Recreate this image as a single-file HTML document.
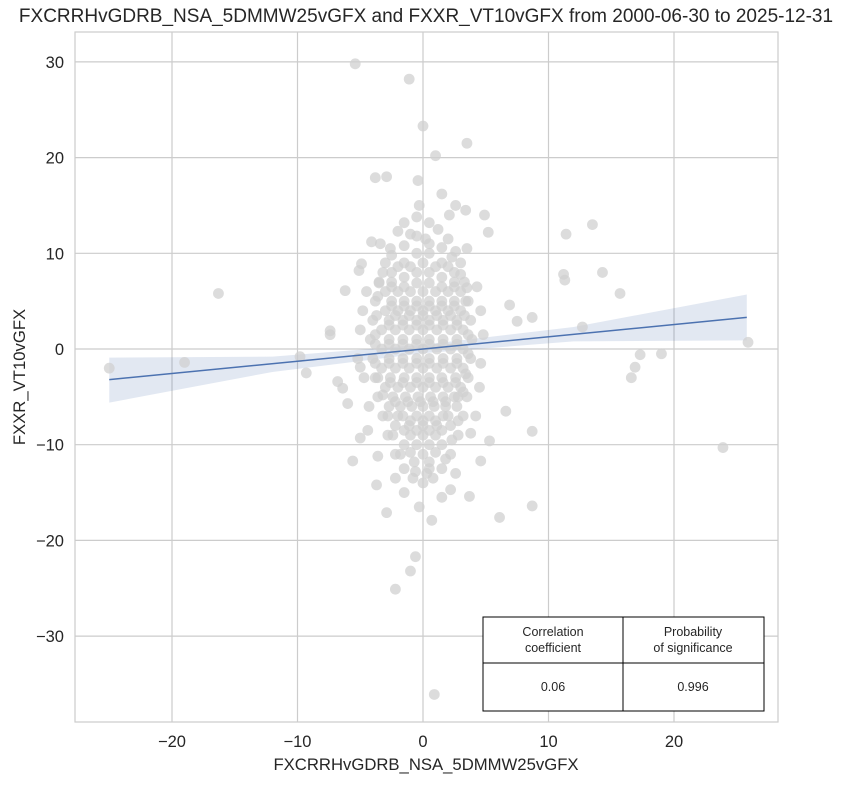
<!DOCTYPE html>
<html><head><meta charset="utf-8">
<style>
body{margin:0;background:#fff;font-family:"Liberation Sans",sans-serif;}
svg text{font-family:"Liberation Sans",sans-serif;fill:#262626;}
</style></head>
<body>
<svg id="chart" width="853" height="784" viewBox="0 0 853 784" xmlns="http://www.w3.org/2000/svg">
<rect x="0" y="0" width="853" height="784" fill="#fff"/>
<g id="grid"></g>
<g id="band"></g>
<g id="pts"></g>
<g id="line"></g>
<rect x="75" y="32" width="703" height="690" fill="none" stroke="#cccccc" stroke-width="1.2"/>
<g id="axes"></g>
<text x="426" y="22" text-anchor="middle" font-size="19">FXCRRHvGDRB_NSA_5DMMW25vGFX and FXXR_VT10vGFX from 2000-06-30 to 2025-12-31</text>
<text x="426" y="770" text-anchor="middle" font-size="16.7">FXCRRHvGDRB_NSA_5DMMW25vGFX</text>
<text transform="translate(25,377) rotate(-90)" text-anchor="middle" font-size="16.7">FXXR_VT10vGFX</text>
<g>
<rect x="483" y="617" width="281" height="94" fill="#fff" stroke="#000" stroke-width="1"/>
<line x1="623" y1="617" x2="623" y2="711" stroke="#000"/>
<line x1="483" y1="663" x2="764" y2="663" stroke="#000"/>
<text x="553" y="636" text-anchor="middle" font-size="12.5">Correlation</text>
<text x="553" y="652" text-anchor="middle" font-size="12.5">coefficient</text>
<text x="693" y="636" text-anchor="middle" font-size="12.5">Probability</text>
<text x="693" y="652" text-anchor="middle" font-size="12.5">of significance</text>
<text x="553" y="691" text-anchor="middle" font-size="12.5">0.06</text>
<text x="693" y="691" text-anchor="middle" font-size="12.5">0.996</text>
</g>
</svg>
<script>
const xTicks=[-20,-10,0,10,20];
const yTicks=[-30,-20,-10,0,10,20,30];
const outliers=[[-25,-2],[-19,-1.4],[-16.3,5.8],[-9.8,-0.8],[-9.3,-2.5],[-7.4,1.5],[-7.4,1.9],[-6.8,-3.4],[-6.2,6.1],[-5.6,-11.7],[-5,-1.9],[-3.8,17.9],[-2.9,18],[-5.4,29.8],[-1.1,28.2],[0,23.3],[1,20.2],[3.5,21.5],[1.5,16.2],[-0.4,17.6],[4.9,14],[2.6,15],[5.2,12.2],[11.4,12],[13.5,13],[11.2,7.8],[11.3,7.2],[14.3,8],[15.7,5.8],[12.7,2.3],[8.7,3.3],[7.5,2.9],[16.9,-1.9],[16.6,-3],[17.3,-0.6],[19,-0.5],[23.9,-10.3],[25.9,0.7],[8.7,-8.6],[8.7,-16.4],[6.1,-17.6],[-2.2,-25.1],[-1,-23.2],[-0.6,-21.7],[0.9,-36.1],[0.7,-17.9],[3.7,-15.4],[-3.7,-14.2],[-5,-9.3],[-2.9,-17.1],[2.2,-14.7],[5.3,-9.6],[6.6,-6.5],[-6.4,-4.1],[-4.9,8.9],[-4.1,11.2],[3.4,14.5],[-1,12],[2.1,14],[4.6,-11.7],[-3.6,-11.2],[-6,-5.7],[6.9,4.6],[-5.1,8.2]];
const cloud=[[-3.5,7],[-3,9],[-2.6,10.5],[-2,12.3],[-1.5,13.2],[-0.5,13.8],[0.5,13.2],[1.2,12.5],[2,11.5],[2.6,10.2],[3,9],[3.3,7],[-3.8,5],[-4,3],[-4.2,1],[-4,-1],[-3.8,-3],[-3.6,-5],[-3.2,-7],[-2.8,-9],[-2.2,-11],[-1.5,-12.5],[-0.8,-13.5],[0,-14],[0.8,-13.5],[1.5,-12.5],[2.2,-11],[2.8,-9],[3.2,-7],[3.5,-5],[3.6,-3],[3.8,-1],[3.9,1],[3.8,3],[3.6,5],[-2.5,8],[-1.5,9],[-0.5,10],[0.5,10],[1.5,9],[2.5,8],[-3,6],[-2,6],[-1,6],[0,6],[1,6],[2,6],[3,6],[-3,4],[-2,4],[-1,4],[0,4],[1,4],[2,4],[3,4],[-3.3,2],[-2.2,2],[-1.1,2],[0,2],[1.1,2],[2.2,2],[3.2,2],[-3.3,0],[-2.2,0],[-1.1,0],[0,0],[1.1,0],[2.2,0],[3.2,0],[-3.3,-2],[-2.2,-2],[-1.1,-2],[0,-2],[1.1,-2],[2.2,-2],[3.2,-2],[-3,-4],[-2,-4],[-1,-4],[0,-4],[1,-4],[2,-4],[3,-4],[-2.7,-6],[-1.8,-6],[-0.9,-6],[0,-6],[0.9,-6],[1.8,-6],[2.7,-6],[-2.2,-8],[-1.1,-8],[0,-8],[1.1,-8],[2.2,-8],[-1.5,-10],[-0.5,-10],[0.5,-10],[1.5,-10],[-0.7,-11.8],[0.5,-11.8],[-2.5,7],[-1.5,7.5],[-0.5,8],[0.5,8],[1.5,7.5],[2.5,7],[-2.5,5],[-1.5,5],[-0.5,5],[0.5,5],[1.5,5],[2.5,5],[-2.7,3],[-1.6,3],[-0.5,3],[0.5,3],[1.6,3],[2.7,3],[-2.7,1],[-1.6,1],[-0.5,1],[0.5,1],[1.6,1],[2.7,1],[-2.7,-1],[-1.6,-1],[-0.5,-1],[0.5,-1],[1.6,-1],[2.7,-1],[-2.6,-3],[-1.5,-3],[-0.5,-3],[0.5,-3],[1.5,-3],[2.6,-3],[-2.4,-5],[-1.4,-5],[-0.4,-5],[0.6,-5],[1.6,-5],[2.5,-5],[-1.6,-7],[-0.5,-7],[0.5,-7],[1.6,-7],[-1,-9],[0,-9],[1,-9],[-4.8,4],[-5,2],[-5.2,-1],[-4.7,-3],[-4.5,6],[4.6,4],[4.8,1.5],[4.6,-1.5],[4.5,-4],[4.3,6.5],[-4.3,-6],[4.2,-7],[-3.4,11],[3.5,10.5],[-4.4,-8.5],[3.8,-8.8],[-1.5,-15],[1.5,-15.5],[-2.2,-13.5],[2.6,-13],[-0.3,-16.5],[0.5,-12.5],[-0.3,15],[0.2,11.5]];
const cloudDense=[[-2.5,9.8],[-1.5,10.8],[-0.5,11.8],[0.5,11],[1.5,10.6],[2.3,9.6],[-3.2,8],[-2,8.6],[-1,8.6],[0,9],[1,8.6],[2,8.6],[3,7.8],[-3.5,6.9],[-2.5,6.5],[-1.5,6.5],[-0.5,6.9],[0.5,6.9],[1.5,6.5],[2.5,6.5],[3.5,6.4],[-3.6,5.5],[-2.5,4.5],[-1.5,4.5],[-0.5,4.5],[0.5,4.5],[1.5,4.5],[2.5,4.5],[3.4,5],[-3.7,3.5],[-2.2,3.5],[-1.1,3.5],[0,3.5],[1.1,3.5],[2.2,3.5],[3.3,3.5],[-3.8,1.5],[-2.7,2.5],[-1.6,2.5],[-0.5,2.5],[0.5,2.5],[1.6,2.5],[2.7,2.5],[3.6,1.5],[-3.8,0.5],[-2.7,0.5],[-1.6,0.5],[-0.5,0.5],[0.5,0.5],[1.6,0.5],[2.7,0.5],[3.6,-0.5],[-3.8,-1.5],[-2.7,-1.5],[-1.6,-1.5],[-0.5,-1.5],[0.5,-1.5],[1.6,-1.5],[2.7,-1.5],[3.4,-2.6],[-3.6,-3],[-2.6,-3.5],[-1.6,-3.5],[-0.5,-3.5],[0.5,-3.5],[1.6,-3.5],[2.6,-3.5],[3.2,-4.5],[-3.2,-4.8],[-2.2,-5.5],[-1.2,-5.5],[-0.2,-5.5],[0.8,-5.5],[1.8,-5.5],[2.8,-5],[-2.8,-7],[-2,-7],[-1,-7.5],[0,-7.5],[1,-7.5],[2,-7],[2.8,-7.5],[-2.4,-9],[-1.5,-8.5],[-0.5,-8.5],[0.5,-8.5],[1.5,-8.5],[2.3,-9.5],[-1.8,-11],[-1,-10.8],[0,-11],[1,-10.8],[1.8,-11.5],[-0.6,-12.8],[0.3,-13]];
const bandXs=[-25,-12,0,12,25.8];
const bandLo=[-5.6,-2.4,-0.45,0.8,0.9];
const bandHi=[-0.9,-0.8,0.45,2.3,5.7];
const lineX=[-25,25.8];
const lineY=[-3.2,3.3];
const X=v=>423+v*12.55, Y=v=>349-v*9.57;
const NS='http://www.w3.org/2000/svg';
function mk(tag,attrs,parent){const e=document.createElementNS(NS,tag);for(const k in attrs)e.setAttribute(k,attrs[k]);parent.appendChild(e);return e;}
const grid=document.getElementById('grid'),axes=document.getElementById('axes');
xTicks.forEach(t=>{const l=mk('line',{x1:X(t),x2:X(t),y1:32,y2:722,stroke:'#cccccc','stroke-width':1.2},grid);


const tx=mk('text',{x:X(t),y:747,'text-anchor':'middle','font-size':16.5},axes);tx.textContent=(t<0?'\u2212'+(-t):t);

});
yTicks.forEach(t=>{const l=mk('line',{x1:75,x2:778,y1:Y(t),y2:Y(t),stroke:'#cccccc','stroke-width':1.2},grid);


const tx=mk('text',{x:64,y:Y(t)+6,'text-anchor':'end','font-size':16.5},axes);tx.textContent=(t<0?'\u2212'+(-t):t);

});
let bp=bandXs.map((x,i)=>X(x)+','+Y(bandLo[i]));
bp=bp.concat(bandXs.map((x,i)=>X(x)+','+Y(bandHi[i])).reverse());
const band=mk('polygon',{points:bp.join(' '),fill:'#4c72b0','fill-opacity':0.16},document.getElementById('band'));


const pts=document.getElementById('pts');
cloud.concat(cloudDense,outliers).forEach(p=>{const c=mk('circle',{cx:X(p[0]),cy:Y(p[1]),r:5.4,fill:'#d0d0d0','fill-opacity':0.75},pts);

});
const rl=mk('line',{x1:X(lineX[0]),y1:Y(lineY[0]),x2:X(lineX[1]),y2:Y(lineY[1]),stroke:'#4c72b0','stroke-width':1.5},document.getElementById('line'));


</script>
</body></html>
